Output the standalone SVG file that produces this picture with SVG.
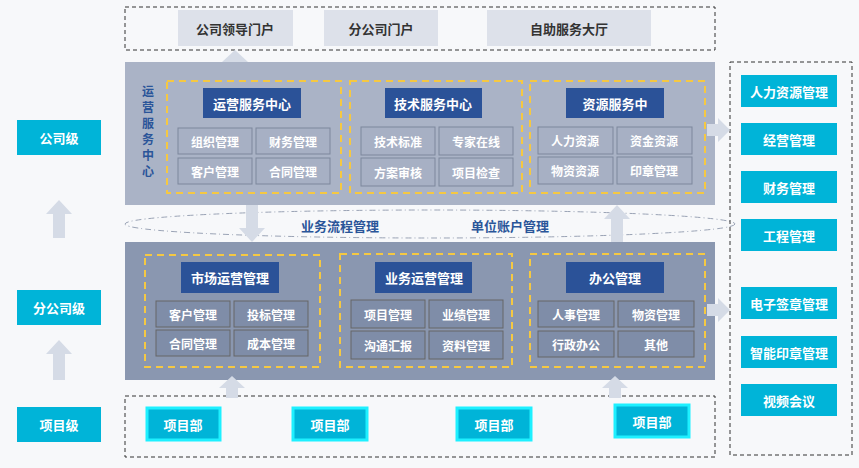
<svg xmlns="http://www.w3.org/2000/svg" width="859" height="468" viewBox="0 0 859 468">
<style>
text{font-family:"Noto Sans CJK SC","Liberation Sans",sans-serif;font-weight:bold;text-anchor:middle;dominant-baseline:central}
.dash{fill:none;stroke:#333;stroke-width:1;stroke-dasharray:4 3}
.yl{fill:none;stroke:#f5c842;stroke-width:2;stroke-dasharray:7 5}
.tab{fill:#dde1ea}
.tabt{fill:#333;font-size:13px}
.ttl{fill:#2b5298}
.ttlt{fill:#fff;font-size:13px}
.sub1{fill:#a7b0c4;stroke:#7d879c}
.sub2{fill:#7f8da8;stroke:#666}
.subt{fill:#fff;font-size:12px}
.cy{fill:#00b4d8}
.cyb{fill:#00b4d8;stroke:#1ef0ff;stroke-width:3}
.cyt{fill:#fff;font-size:13px}
.arr{fill:#d5dbe6}
.vt{fill:#2a5599;font-size:12px}
</style>
<rect width="859" height="468" fill="#f7f8fa"/>
<g id="top"><rect class="dash" x="125" y="7" width="590" height="43"/>
<rect class="tab" x="178" y="10" width="115" height="36"/><text class="tabt" x="235" y="28">公司领导门户</text>
<rect class="tab" x="324" y="10" width="114" height="36"/><text class="tabt" x="381" y="28">分公司门户</text>
<rect class="tab" x="487" y="10" width="164" height="36"/><text class="tabt" x="569" y="28">自助服务大厅</text></g>
<g id="upper">
<rect x="125" y="62" width="590" height="143" fill="#aab3c6"/>
<text class="vt" x="148" y="90">运</text><text class="vt" x="148" y="106">营</text><text class="vt" x="148" y="122">服</text><text class="vt" x="148" y="138">务</text><text class="vt" x="148" y="154">中</text><text class="vt" x="148" y="170">心</text>
<rect class="yl" x="167" y="81" width="174" height="112"/>
<rect class="ttl" x="203" y="88" width="98" height="30"/><text class="ttlt" x="252" y="103">运营服务中心</text>
<rect class="sub1" x="178" y="128" width="74" height="26"/><text class="subt" x="215" y="141">组织管理</text>
<rect class="sub1" x="256" y="128" width="74" height="26"/><text class="subt" x="293" y="141">财务管理</text>
<rect class="sub1" x="178" y="158" width="74" height="26"/><text class="subt" x="215" y="171">客户管理</text>
<rect class="sub1" x="256" y="158" width="74" height="26"/><text class="subt" x="293" y="171">合同管理</text>
<rect class="yl" x="350" y="81" width="172" height="112"/>
<rect class="ttl" x="385" y="88" width="97" height="30"/><text class="ttlt" x="433" y="103">技术服务中心</text>
<rect class="sub1" x="361" y="127" width="74" height="28"/><text class="subt" x="398" y="141">技术标准</text>
<rect class="sub1" x="439" y="127" width="74" height="28"/><text class="subt" x="476" y="141">专家在线</text>
<rect class="sub1" x="361" y="158" width="74" height="28"/><text class="subt" x="398" y="172">方案审核</text>
<rect class="sub1" x="439" y="158" width="74" height="28"/><text class="subt" x="476" y="172">项目检查</text>
<rect class="yl" x="530" y="81" width="175" height="112"/>
<rect class="ttl" x="566" y="88" width="98" height="30"/><text class="ttlt" x="615" y="103">资源服务中</text>
<rect class="sub1" x="538" y="127" width="75" height="27"/><text class="subt" x="575" y="140">人力资源</text>
<rect class="sub1" x="617" y="127" width="75" height="27"/><text class="subt" x="654" y="140">资金资源</text>
<rect class="sub1" x="538" y="157" width="75" height="27"/><text class="subt" x="575" y="170">物资资源</text>
<rect class="sub1" x="617" y="157" width="75" height="27"/><text class="subt" x="654" y="170">印章管理</text>
</g>
<g id="band">
<ellipse cx="430" cy="224" rx="305" ry="14" fill="none" stroke="#9aa3b5" stroke-dasharray="6 3 1 3"/>
<text x="340" y="225" fill="#2a5599" font-size="13">业务流程管理</text>
<text x="510" y="225" fill="#2a5599" font-size="13">单位账户管理</text>
</g>
<g id="lower">
<rect x="125" y="242" width="590" height="138" fill="#8a97b0"/>
<rect class="yl" x="145" y="255" width="175" height="112"/>
<rect class="ttl" x="181" y="262" width="98" height="31"/><text class="ttlt" x="230" y="277">市场运营管理</text>
<rect class="sub2" x="156" y="301" width="74" height="26"/><text class="subt" x="193" y="314">客户管理</text>
<rect class="sub2" x="234" y="301" width="74" height="26"/><text class="subt" x="271" y="314">投标管理</text>
<rect class="sub2" x="156" y="330" width="74" height="26"/><text class="subt" x="193" y="343">合同管理</text>
<rect class="sub2" x="234" y="330" width="74" height="26"/><text class="subt" x="271" y="343">成本管理</text>
<rect class="yl" x="340" y="254" width="172" height="113"/>
<rect class="ttl" x="375" y="262" width="97" height="31"/><text class="ttlt" x="424" y="277">业务运营管理</text>
<rect class="sub2" x="351" y="300" width="74" height="28"/><text class="subt" x="388" y="314">项目管理</text>
<rect class="sub2" x="429" y="300" width="74" height="28"/><text class="subt" x="466" y="314">业绩管理</text>
<rect class="sub2" x="351" y="331" width="74" height="28"/><text class="subt" x="388" y="345">沟通汇报</text>
<rect class="sub2" x="429" y="331" width="74" height="28"/><text class="subt" x="466" y="345">资料管理</text>
<rect class="yl" x="530" y="254" width="175" height="113"/>
<rect class="ttl" x="566" y="262" width="98" height="31"/><text class="ttlt" x="615" y="277">办公管理</text>
<rect class="sub2" x="538" y="301" width="76" height="26"/><text class="subt" x="576" y="314">人事管理</text>
<rect class="sub2" x="618" y="301" width="76" height="26"/><text class="subt" x="656" y="314">物资管理</text>
<rect class="sub2" x="538" y="331" width="76" height="26"/><text class="subt" x="576" y="344">行政办公</text>
<rect class="sub2" x="618" y="331" width="76" height="26"/><text class="subt" x="656" y="344">其他</text>
</g>
<g id="bottom"><rect class="dash" x="125" y="396" width="590" height="61"/>
<rect class="cyb" x="147" y="408" width="73" height="32"/><text class="cyt" x="183" y="424">项目部</text>
<rect class="cyb" x="293" y="408" width="74" height="32"/><text class="cyt" x="330" y="424">项目部</text>
<rect class="cyb" x="457" y="408" width="74" height="32"/><text class="cyt" x="494" y="424">项目部</text>
<rect class="cyb" x="615" y="405" width="74" height="32"/><text class="cyt" x="652" y="421">项目部</text></g>
<g id="levels">
<rect class="cy" x="17" y="120" width="84" height="35"/><text class="cyt" x="59" y="137" font-size="15">公司级</text>
<rect class="cy" x="17" y="290" width="84" height="35"/><text class="cyt" x="59" y="307" font-size="15">分公司级</text>
<rect class="cy" x="17" y="407" width="84" height="35"/><text class="cyt" x="59" y="424" font-size="15">项目级</text></g>
<g id="right"><rect class="dash" x="730" y="62" width="122" height="393"/>
<rect class="cy" x="741" y="75" width="96" height="32"/><text class="cyt" x="789" y="91">人力资源管理</text>
<rect class="cy" x="741" y="123" width="96" height="32"/><text class="cyt" x="789" y="139">经营管理</text>
<rect class="cy" x="741" y="171" width="96" height="32"/><text class="cyt" x="789" y="187">财务管理</text>
<rect class="cy" x="741" y="219" width="96" height="32"/><text class="cyt" x="789" y="235">工程管理</text>
<rect class="cy" x="741" y="287" width="96" height="32"/><text class="cyt" x="789" y="303">电子签章管理</text>
<rect class="cy" x="741" y="336" width="96" height="32"/><text class="cyt" x="789" y="352">智能印章管理</text>
<rect class="cy" x="741" y="384" width="96" height="32"/><text class="cyt" x="789" y="400">视频会议</text></g>
<g id="connectors">
<polygon class="arr" points="229,62 229,62 229,62 222,62 235,50 248,62 241,62 241,62"/>
<polygon class="arr" points="246,205 258,205 258,228 265,228 252,242 239,228 246,228"/>
<polygon class="arr" points="611,242 623,242 623,219 630,219 617,205 604,219 611,219"/>
<polygon class="arr" points="226,398 238,398 238,388 245,388 232,376 219,388 226,388"/>
<polygon class="arr" points="609,398 621,398 621,388 628,388 615,376 602,388 609,388"/>
<polygon class="arr" points="53,238 65,238 65,214 72,214 59,200 46,214 53,214"/>
<polygon class="arr" points="53,380 65,380 65,354 72,354 59,340 46,354 53,354"/>
<polygon class="arr" points="707,124 718,124 718,118 730,130 718,142 718,136 707,136"/>
<polygon class="arr" points="707,304 718,304 718,298 730,310 718,322 718,316 707,316"/>
</g>
</svg>
